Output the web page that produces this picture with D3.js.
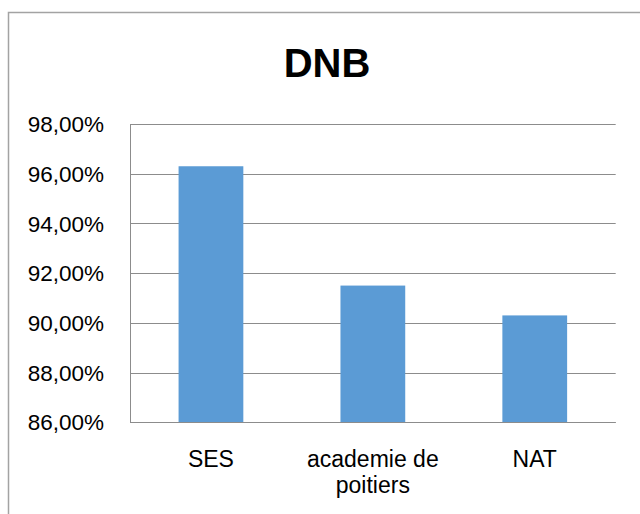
<!DOCTYPE html>
<html>
<head>
<meta charset="utf-8">
<script src="https://cdn.jsdelivr.net/npm/d3@7"></script>
<style>
  html, body { margin: 0; padding: 0; background: #fff; overflow: hidden; }
  svg { display: block; font-family: "Liberation Sans", Arial, sans-serif; }
</style>
</head>
<body>
<div id="chart"></div>
<script>
/* --- データ --- */
const title = "DNB";
const categories = ["SES", "academie de poitiers", "NAT"];
const values = [96.3, 91.5, 90.3];
const yTicks = [86, 88, 90, 92, 94, 96, 98];

/* --- サイズ --- */
const width = 640, height = 514;
const plot = { left: 130, right: 615.7, top: 124, bottom: 422.3 };

const svg = d3.select("#chart")
  .append("svg")
  .attr("width", width)
  .attr("height", height);

// 外枠
svg.append("rect")
  .attr("x", 8.5)
  .attr("y", 12.5)
  .attr("width", 700)
  .attr("height", 600)
  .attr("fill", "#fff")
  .attr("stroke", "#a3a3a3")
  .attr("stroke-width", 1.5);

// タイトル
svg.append("text")
  .attr("x", 327)
  .attr("y", 77)
  .attr("text-anchor", "middle")
  .attr("font-size", "40px")
  .attr("font-weight", "bold")
  .attr("fill", "#000")
  .text(title);

/* --- スケール --- */
const x = d3.scaleBand()
  .domain(categories)
  .range([plot.left, plot.right])
  .paddingInner(0.6)
  .paddingOuter(0.3);

const y = d3.scaleLinear()
  .domain([d3.min(yTicks), d3.max(yTicks)])
  .range([plot.bottom, plot.top]);

// グリッド線
svg.append("g")
  .selectAll("line")
  .data(yTicks)
  .enter()
  .append("line")
  .attr("x1", plot.left)
  .attr("x2", plot.right)
  .attr("y1", (d) => Math.round(y(d)) + 0.5)
  .attr("y2", (d) => Math.round(y(d)) + 0.5)
  .attr("stroke", "#8c8c8c")
  .attr("stroke-width", 1);

// Y軸線
svg.append("line")
  .attr("x1", plot.left + 0.5)
  .attr("x2", plot.left + 0.5)
  .attr("y1", Math.round(plot.top) + 0.5)
  .attr("y2", Math.round(plot.bottom) + 0.5)
  .attr("stroke", "#8c8c8c");

// 棒
svg.append("g")
  .selectAll("rect")
  .data(values)
  .enter()
  .append("rect")
  .attr("x", (d, i) => x(categories[i]))
  .attr("width", x.bandwidth())
  .attr("y", (d) => y(d))
  .attr("height", (d) => y(d3.min(yTicks)) - y(d))
  .attr("fill", "#5b9bd5");

// X軸線（棒の上に重ねる）
svg.append("line")
  .attr("x1", plot.left)
  .attr("x2", plot.right)
  .attr("y1", Math.round(plot.bottom) + 0.5)
  .attr("y2", Math.round(plot.bottom) + 0.5)
  .attr("stroke", "#8c8c8c");

// Y軸ラベル
const fmt = (d) => d.toFixed(2).replace(".", ",") + "%";
svg.append("g")
  .selectAll("text")
  .data(yTicks)
  .enter()
  .append("text")
  .attr("x", plot.left - 26)
  .attr("y", (d) => y(d))
  .attr("dy", "0.36em")
  .attr("text-anchor", "end")
  .attr("font-size", "22.5px")
  .attr("fill", "#000")
  .text(fmt);

// X軸ラベル（折り返し）
const labelG = svg.append("g");
categories.forEach((c) => {
  const t = labelG.append("text")
    .attr("x", x(c) + x.bandwidth() / 2)
    .attr("y", 466.5)
    .attr("text-anchor", "middle")
    .attr("font-size", "23px")
    .attr("fill", "#000");
  const words = c.split(" ");
  let line = [];
  let lineNo = 0;
  let tspan = t.append("tspan").attr("x", x(c) + x.bandwidth() / 2).attr("dy", 0);
  words.forEach((w) => {
    line.push(w);
    tspan.text(line.join(" "));
    if (tspan.node().getComputedTextLength() > x.step() - 10 && line.length > 1) {
      line.pop();
      tspan.text(line.join(" "));
      line = [w];
      lineNo++;
      tspan = t.append("tspan")
        .attr("x", x(c) + x.bandwidth() / 2)
        .attr("dy", 26)
        .text(w);
    }
  });
});
</script>
</body>
</html>
